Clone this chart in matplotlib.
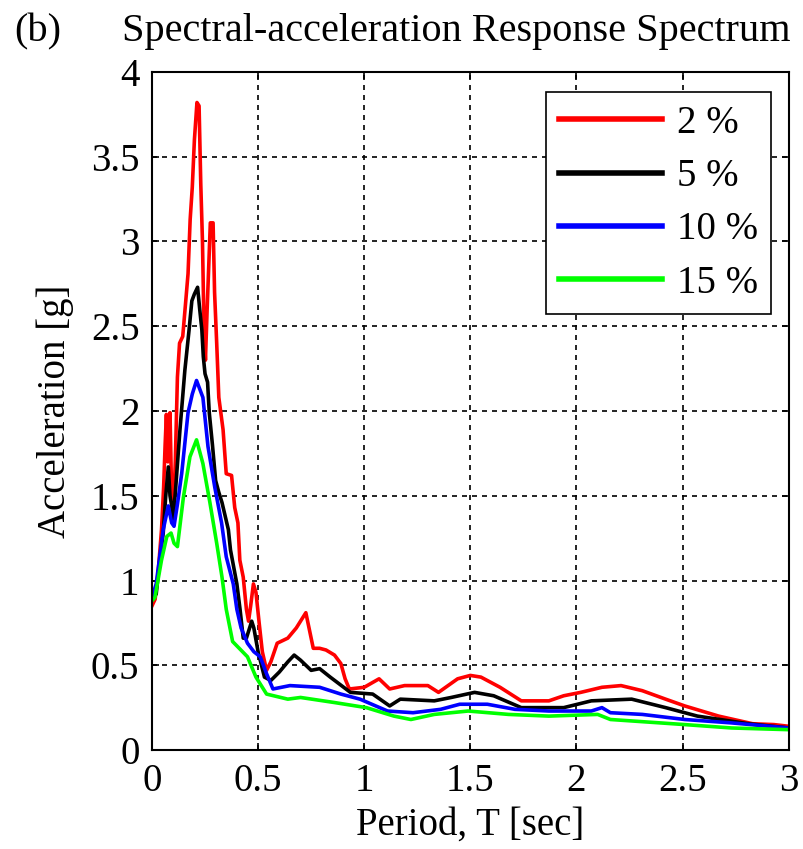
import matplotlib
matplotlib.use('Agg')
import matplotlib.pyplot as plt

# damping ratio curves: period [s] and spectral acceleration [g]
t_2 = [0.00, 0.015, 0.03, 0.045, 0.055, 0.062, 0.068, 0.075, 0.085, 0.092, 0.100, 0.110, 0.120, 0.130,
       0.145, 0.160, 0.170, 0.180, 0.190, 0.200, 0.212, 0.222, 0.230, 0.238, 0.245, 0.252, 0.260, 0.268,
       0.275, 0.288, 0.295, 0.305, 0.315, 0.335, 0.350, 0.375, 0.390, 0.405, 0.414, 0.430, 0.445, 0.455,
       0.465, 0.478, 0.490, 0.505, 0.520, 0.540, 0.560, 0.590, 0.640, 0.680, 0.710, 0.725, 0.740, 0.760,
       0.790, 0.820, 0.860, 0.890, 0.910, 0.930, 1.000, 1.070, 1.120, 1.190, 1.300, 1.350, 1.440, 1.500,
       1.550, 1.640, 1.740, 1.870, 1.940, 2.020, 2.120, 2.210, 2.310, 2.420, 2.510, 2.670, 2.830, 2.930, 3.000]
sa_2 = [0.85, 0.89, 1.06, 1.30, 1.55, 1.80, 1.98, 1.70, 1.99, 1.55, 1.37, 1.70, 2.20, 2.40,
        2.44, 2.66, 2.81, 3.13, 3.32, 3.60, 3.82, 3.80, 3.34, 3.00, 2.50, 2.30, 2.60, 2.87,
        3.11, 3.11, 2.70, 2.40, 2.08, 1.89, 1.63, 1.62, 1.43, 1.34, 1.12, 1.02, 0.83, 0.76,
        0.85, 0.98, 0.93, 0.75, 0.58, 0.47, 0.52, 0.63, 0.66, 0.72, 0.78, 0.81, 0.72, 0.60,
        0.60, 0.59, 0.56, 0.51, 0.42, 0.36, 0.37, 0.42, 0.36, 0.38, 0.38, 0.34, 0.42, 0.44,
        0.43, 0.37, 0.29, 0.29, 0.32, 0.34, 0.37, 0.38, 0.35, 0.30, 0.26, 0.20, 0.155, 0.15, 0.14]

t_5 = [0.00, 0.02, 0.035, 0.053, 0.065, 0.077, 0.085, 0.093, 0.100, 0.112, 0.132, 0.155, 0.175, 0.188,
       0.200, 0.215, 0.225, 0.235, 0.242, 0.250, 0.262, 0.270, 0.285, 0.300, 0.315, 0.330, 0.345, 0.360,
       0.370, 0.385, 0.400, 0.415, 0.430, 0.445, 0.460, 0.470, 0.480, 0.500, 0.530, 0.560, 0.600, 0.640,
       0.670, 0.700, 0.750, 0.790, 0.840, 0.935, 1.040, 1.120, 1.170, 1.330, 1.410, 1.520, 1.610, 1.740,
       1.870, 1.940, 2.070, 2.260, 2.420, 2.570, 2.810, 3.000]
sa_5 = [0.90, 0.92, 1.10, 1.28, 1.50, 1.67, 1.50, 1.44, 1.36, 1.55, 1.89, 2.24, 2.48, 2.65,
        2.69, 2.73, 2.60, 2.48, 2.32, 2.22, 2.17, 1.99, 1.80, 1.59, 1.52, 1.46, 1.38, 1.30,
        1.18, 1.08, 0.98, 0.83, 0.66, 0.66, 0.72, 0.76, 0.72, 0.58, 0.43, 0.41, 0.46, 0.52,
        0.56, 0.53, 0.47, 0.48, 0.43, 0.34, 0.33, 0.26, 0.30, 0.29, 0.31, 0.34, 0.32, 0.25,
        0.25, 0.25, 0.29, 0.30, 0.25, 0.20, 0.155, 0.13]

t_10 = [0.00, 0.02, 0.053, 0.077, 0.093, 0.104, 0.120, 0.140, 0.170, 0.190, 0.210, 0.240, 0.264, 0.296,
        0.328, 0.350, 0.383, 0.400, 0.420, 0.450, 0.480, 0.510, 0.540, 0.570, 0.650, 0.790, 0.890, 0.980,
        1.110, 1.230, 1.360, 1.450, 1.580, 1.710, 1.870, 2.070, 2.120, 2.160, 2.310, 2.510, 2.730, 3.000]
sa_10 = [0.90, 0.98, 1.30, 1.44, 1.34, 1.32, 1.45, 1.63, 1.99, 2.10, 2.18, 2.08, 1.79, 1.55,
         1.34, 1.14, 0.98, 0.83, 0.72, 0.63, 0.58, 0.55, 0.45, 0.36, 0.38, 0.37, 0.33, 0.30,
         0.23, 0.22, 0.24, 0.27, 0.27, 0.24, 0.23, 0.23, 0.25, 0.22, 0.21, 0.18, 0.16, 0.13]

t_15 = [0.00, 0.014, 0.045, 0.070, 0.090, 0.104, 0.120, 0.148, 0.179, 0.210, 0.240, 0.273, 0.305, 0.330,
        0.350, 0.380, 0.450, 0.490, 0.540, 0.640, 0.700, 0.860, 1.010, 1.140, 1.220, 1.330, 1.490, 1.680,
        1.870, 2.100, 2.160, 2.510, 2.730, 3.000]
sa_15 = [0.88, 0.90, 1.12, 1.26, 1.28, 1.22, 1.20, 1.49, 1.73, 1.83, 1.69, 1.46, 1.22, 1.02,
         0.83, 0.64, 0.55, 0.43, 0.33, 0.30, 0.31, 0.28, 0.25, 0.20, 0.18, 0.21, 0.23, 0.21,
         0.20, 0.21, 0.18, 0.15, 0.13, 0.12]

labels = ['2 %', '5 %', '10 %', '15 %']
colors = ['#ff0000', '#000000', '#0000ff', '#00ff00']

plt.rcParams['font.family'] = ['Liberation Serif', 'DejaVu Serif']

fig = plt.figure(figsize=(8.04, 8.49), dpi=100)
ax = fig.add_axes([0.189, 0.1166, 0.792, 0.7986])

for t, sa, c, lab in zip([t_2, t_5, t_10, t_15], [sa_2, sa_5, sa_10, sa_15], colors, labels):
    ax.plot(t, sa, color=c, lw=2.6, label=lab)

ax.set_xlim(0, 3)
ax.set_ylim(0, 4)
ax.set_xticks([0, 0.5, 1, 1.5, 2, 2.5, 3])
ax.set_xticklabels(['0', '0.5', '1', '1.5', '2', '2.5', '3'])
ax.set_yticks([0, 0.5, 1, 1.5, 2, 2.5, 3, 3.5, 4])
ax.set_yticklabels(['0', '0.5', '1', '1.5', '2', '2.5', '3', '3.5', '4'])
ax.grid(True, color='black', linestyle=(0, (3, 3)), lw=1.2)
ax.tick_params(direction='in', top=True, right=True, length=5, width=1.2, labelsize=28, pad=9)
for s in ax.spines.values():
    s.set_linewidth(1.5)

ax.set_xlabel('Period, T [sec]', fontsize=28, labelpad=5)
ax.set_ylabel('Acceleration [g]', fontsize=28, labelpad=12)

leg = ax.legend(loc='upper right', bbox_to_anchor=(0.972, 0.97), borderaxespad=0, fontsize=28,
                handlelength=2.65, handletextpad=0.4, labelspacing=0.42, fancybox=False,
                framealpha=1, edgecolor='black', borderpad=0.32)
leg.get_frame().set_linewidth(1.2)
for line in leg.get_lines():
    line.set_linewidth(4)

fig.text(0.018, 0.963, '(b)', fontsize=29, va='center', ha='left')
fig.text(0.568, 0.963, 'Spectral-acceleration Response Spectrum', fontsize=29, va='center', ha='center')

fig.savefig('out.png', dpi=100)
